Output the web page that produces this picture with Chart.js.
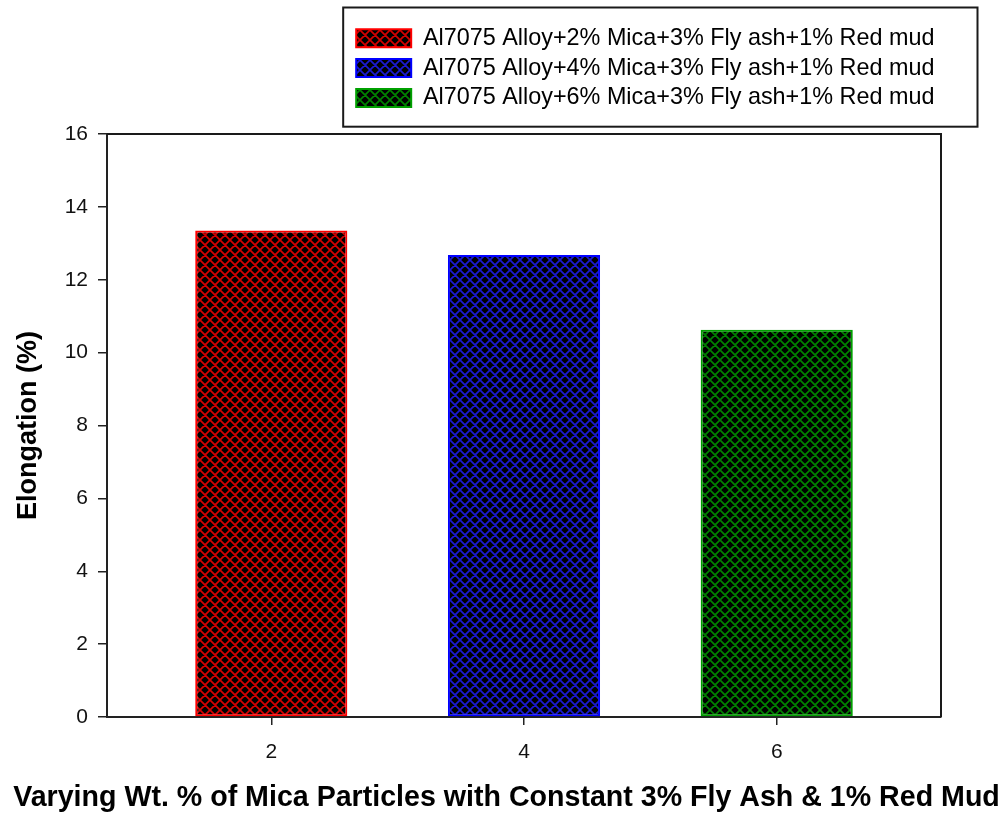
<!DOCTYPE html>
<html>
<head>
<meta charset="utf-8">
<script src="https://cdn.jsdelivr.net/npm/chart.js@4.4.0/dist/chart.umd.min.js"></script>
<style>
  html, body { margin: 0; padding: 0; background: #fff; }
  #wrap { width: 1005px; height: 816px; }
</style>
</head>
<body>
<div id="wrap"><canvas id="c" width="1005" height="816"></canvas></div>
<script>
// Mica content (wt.%) of each composite and its measured elongation
const micaWt = [2, 4, 6];
const seriesNames = [
  'Al7075 Alloy+2% Mica+3% Fly ash+1% Red mud',
  'Al7075 Alloy+4% Mica+3% Fly ash+1% Red mud',
  'Al7075 Alloy+6% Mica+3% Fly ash+1% Red mud'
];
const elongation = [13.35, 12.68, 10.63];
const xTickValues = [2, 4, 6];
const yTitle = 'Elongation (%)';
const xTitle = 'Varying Wt. % of Mica Particles with Constant 3% Fly Ash & 1% Red Mud';

const FONT = '"Liberation Sans", Arial, Helvetica, sans-serif';
const hatchColors = ['#d40000', '#1a1ad0', '#008000'];
const edgeColors = ['#ff0000', '#0000ff', '#00a000'];

// Black fill with a coloured diagonal cross-hatch
function crossHatch(color) {
  const s = 10;
  const cv = document.createElement('canvas');
  cv.width = cv.height = s;
  const g = cv.getContext('2d');
  g.fillStyle = '#000';
  g.fillRect(0, 0, s, s);
  g.strokeStyle = color;
  g.lineWidth = 1.7;
  g.beginPath();
  for (const dx of [-s, 0, s]) {
    g.moveTo(dx - 1, -1); g.lineTo(dx + s + 1, s + 1);
    g.moveTo(dx + s + 1, -1); g.lineTo(dx - 1, s + 1);
  }
  g.stroke();
  return g.createPattern(cv, 'repeat');
}

const datasets = micaWt.map((wt, i) => ({
  label: seriesNames[i],
  data: [{ x: wt, y: elongation[i] }],
  backgroundColor: crossHatch(hatchColors[i]),
  borderColor: edgeColors[i],
  borderWidth: 2,
  borderSkipped: false,
  categoryPercentage: 1,
  barPercentage: 0.602
}));

// Extra room below the legend, the boxed frame around it, plot frame and x caption
const legendBlock = {
  id: 'legendBlock',
  beforeInit(chart) {
    const legend = chart.legend;
    const fit = legend.fit;
    legend.fit = function () {
      fit.call(this);
      this.height = 114;
    };
  },
  afterDraw(chart) {
    const { ctx, chartArea: a } = chart;
    ctx.save();
    ctx.strokeStyle = '#1a1a1a';
    ctx.lineWidth = 2;
    // top and right sides of the plot frame
    ctx.beginPath();
    ctx.moveTo(a.left, a.top);
    ctx.lineTo(a.right, a.top);
    ctx.lineTo(a.right, a.bottom);
    ctx.stroke();
    // legend frame
    const hb = chart.legend.legendHitBoxes;
    if (hb && hb.length) {
      const l = Math.min(...hb.map(h => h.left)) - 13;
      const r = Math.max(...hb.map(h => h.left + h.width)) + 43;
      const t = hb[0].top - 19;
      const b = hb[hb.length - 1].top + hb[hb.length - 1].height + 17;
      ctx.strokeRect(l, t, r - l, b - t);
    }
    // x-axis caption, centred on the page
    ctx.fillStyle = '#000';
    ctx.font = 'bold 28.6px ' + FONT;
    ctx.textAlign = 'center';
    ctx.textBaseline = 'middle';
    ctx.fillText(xTitle, chart.width / 2 + 4, 798);
    ctx.restore();
  }
};

new Chart(document.getElementById('c'), {
  type: 'bar',
  data: { datasets },
  plugins: [legendBlock],
  options: {
    responsive: false,
    animation: false,
    devicePixelRatio: 1,
    layout: { padding: { top: 20, right: 64, left: 0, bottom: 0 } },
    plugins: {
      tooltip: { enabled: false },
      legend: {
        position: 'top',
        align: 'end',
        labels: {
          boxWidth: 55,
          boxHeight: 18,
          padding: 6.5,
          color: '#000',
          font: { family: FONT, size: 23.4 }
        }
      }
    },
    scales: {
      x: {
        type: 'linear',
        min: 0.7,
        max: 7.3,
        offset: false,
        stacked: true,
        afterBuildTicks(scale) { scale.ticks = xTickValues.map(v => ({ value: v })); },
        afterFit(scale) { scale.height = 99; },
        grid: { offset: false, drawOnChartArea: false, drawTicks: true, tickLength: 8, color: '#222', lineWidth: 1.5 },
        border: { display: true, color: '#222', width: 2 },
        ticks: { color: '#111', padding: 15, font: { family: FONT, size: 21 } }
      },
      y: {
        stacked: true,
        min: 0,
        max: 16,
        afterFit(scale) { scale.width = 107; },
        grid: { drawOnChartArea: false, drawTicks: true, tickLength: 9, color: '#222', lineWidth: 1.5 },
        border: { display: true, color: '#222', width: 2 },
        ticks: { stepSize: 2, color: '#111', padding: 10, font: { family: FONT, size: 21 } },
        title: {
          display: true,
          text: yTitle,
          color: '#000',
          padding: { top: 12, bottom: 0 },
          font: { family: FONT, size: 27, weight: 'bold' }
        }
      }
    }
  }
});
</script>
</body>
</html>
